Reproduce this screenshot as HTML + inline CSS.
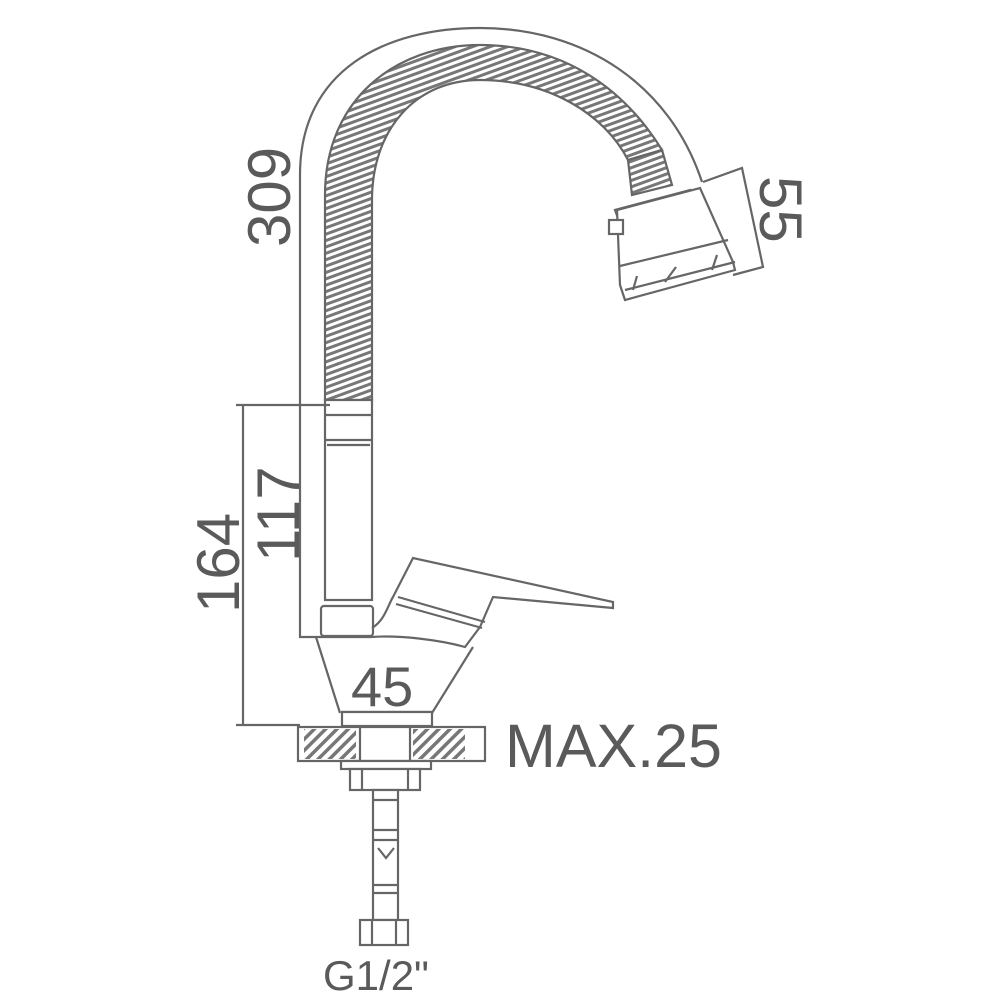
<!DOCTYPE html>
<html><head><style>
html,body{margin:0;padding:0;background:#fff;}
svg{display:block}
text{font-family:"Liberation Sans",sans-serif;fill:#5a5a5a}
</style></head><body>
<svg width="1000" height="1000" viewBox="0 0 1000 1000" xmlns="http://www.w3.org/2000/svg">
<defs>
<pattern id="h" width="8" height="8" patternUnits="userSpaceOnUse" patternTransform="rotate(45)">
<rect width="8" height="8" fill="#fff"/><rect width="3.5" height="8" fill="#777"/>
</pattern>
<pattern id="hz" width="6" height="6" patternUnits="userSpaceOnUse" patternTransform="rotate(-20)">
<rect width="6" height="6" fill="#fff"/><rect width="6" height="3" fill="#777"/>
</pattern>
</defs>
<g fill="none" stroke="#666" stroke-width="2.2">
<path d="M300,400 L300,175 C300,70 385,28 480,28 C585,28 670,85 702,182"/>
<path d="M325,400 L325,195 C325,100 395,45 480,45 C565,45 625,90 662,150 L628,160 C605,115 550,80 480,80 C415,80 372,130 372,200 L372,400 Z" fill="url(#hz)"/>
<path d="M628,160 L662,150 L672,185 L632,195 Z" fill="url(#hz)"/>
<path d="M615,210 L690,190 L690,198 L618,218 Z" fill="#fff"/>
<path d="M617,210 L700,188 L733,262 L735,270 L625,300 L620,285 Z" fill="#fff"/>
<path d="M620,266 L728,240"/>
<path d="M625,290 L735,262"/>
<rect x="609" y="220" width="14" height="14" fill="#fff"/>
<path d="M633,290 L637,276 M665,282 L676,267 M712,270 L717,255"/>
<path d="M703,182 L742,168 L763,267 L733,275"/>
<rect x="325" y="400" width="47" height="200" fill="#fff"/>
<path d="M325,415 L372,415 M325,440 L372,440 M327,445 L370,445"/>
<path d="M300,400 L300,637 L372,637"/>
<rect x="321" y="606" width="52" height="30" rx="3" fill="#fff"/>
<path d="M316,637 L340,713 M473,647 L432,713"/>
<path d="M372,628 C385,620 388,605 393,597 L413,558 L613,602 L613,608 L493,597 L480,627 L465,647 C440,640 400,635 372,637"/>
<path d="M398,597 L485,622 M396,604 L482,628"/>
<path d="M342,712 L432,712"/>
<rect x="342" y="712" width="90" height="14" fill="#fff"/>
<rect x="298" y="727" width="187" height="34" fill="#fff"/>
<rect x="304" y="729" width="52" height="30" fill="url(#h)" stroke="none"/>
<rect x="413" y="729" width="52" height="30" fill="url(#h)" stroke="none"/>
<path d="M360,727 L360,761 M410,727 L410,761"/>
<rect x="341" y="761" width="90" height="8" fill="#fff"/>
<rect x="350" y="769" width="70" height="21" fill="#fff"/>
<path d="M362,769 L362,790 M408,769 L408,790"/>
<rect x="373" y="790" width="25" height="130" fill="#fff"/>
<path d="M373,800 L398,800 M373,830 L398,830 M373,840 L398,840 M373,885 L398,885 M373,893 L398,893"/>
<path d="M378,848 L386,858 L394,848"/>
<rect x="360" y="920" width="48" height="25" fill="#fff"/>
<path d="M372,920 L372,945 M396,920 L396,945"/>
<path d="M243,405 L243,725 M236,405 L330,405 M236,725 L300,725"/>
</g>
<text x="0" y="0" font-size="60" transform="translate(290,247) rotate(-90)">309</text>
<text x="0" y="0" font-size="60" transform="translate(299,562) rotate(-90)">117</text>
<text x="0" y="0" font-size="60" transform="translate(239,613) rotate(-90)">164</text>
<text x="0" y="0" font-size="60" transform="translate(760,176) rotate(90)">55</text>
<text x="351" y="706" font-size="56">45</text>
<text x="505" y="767" font-size="61">MAX.25</text>
<text x="323" y="990" font-size="42">G1/2"</text>
</svg>
</body></html>
